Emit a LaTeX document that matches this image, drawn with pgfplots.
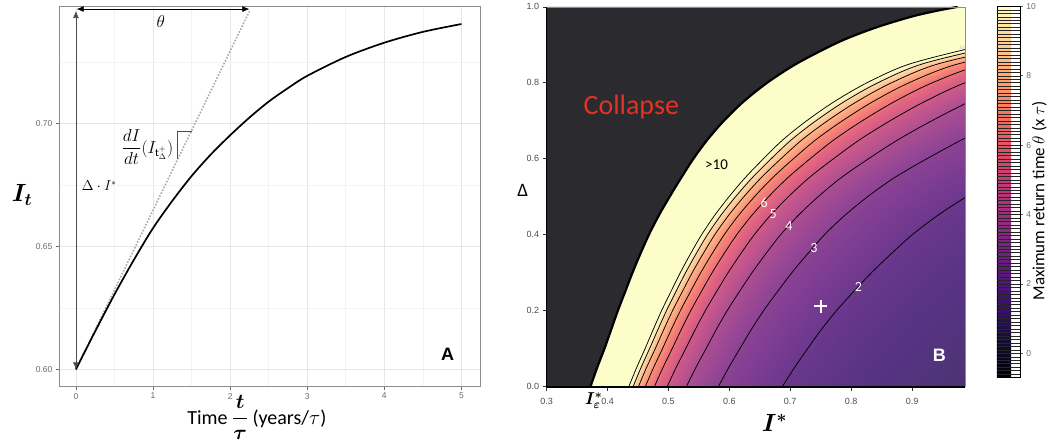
\documentclass[border=0pt]{standalone}
\usepackage{amsmath}
\usepackage{bm}
\usepackage{pgfplots}
\pgfplotsset{compat=1.18}
\usepackage{pgfplotstable}
\usepackage{fontspec}
\setmainfont{Carlito}
\newfontfamily\arialf{Liberation Sans}
\usetikzlibrary{arrows.meta}

\definecolor{tickgrey}{RGB}{105,105,105}
\definecolor{gridmaj}{RGB}{230,230,230}
\definecolor{gridmin}{RGB}{243,243,243}
\definecolor{framegrey}{RGB}{140,140,140}
\definecolor{tangentgrey}{RGB}{170,170,170}
\definecolor{collapsec}{RGB}{43,43,47}
\definecolor{collapsered}{RGB}{228,50,34}

\pgfplotsset{
 colormap={magma}{rgb255=(0,0,4) rgb255=(20,14,54) rgb255=(59,15,112) rgb255=(100,26,128) rgb255=(140,41,129) rgb255=(183,55,121) rgb255=(222,73,104) rgb255=(246,112,92) rgb255=(254,159,109) rgb255=(254,206,145) rgb255=(252,253,191)},
 colormap={magmalight}{rgb255=(38,38,42) rgb255=(55,50,84) rgb255=(88,51,133) rgb255=(123,60,147) rgb255=(157,73,148) rgb255=(194,85,141) rgb255=(227,100,127) rgb255=(247,133,116) rgb255=(254,173,131) rgb255=(254,213,162) rgb255=(252,253,201)},
 contourline/.style={black, line width=0.75pt, smooth},
}

% recovery curve of panel A
\pgfplotstableread{
t I
0    0.6000
0.25 0.6155
0.5  0.6305
0.75 0.6445
1.0  0.6575
1.25 0.6686
1.5  0.6787
1.75 0.6875
2.0  0.6953
2.25 0.7025
2.5  0.7090
2.75 0.7145
3.0  0.7195
3.5  0.7272
4.0  0.7330
4.5  0.7374
5.0  0.7406
}\curve

% collapse boundary (b) and contour lines theta = 10 ... 2 of panel B, by row Delta
\pgfplotstableread{
D b c10 c9 c8 c7 c6 c5 c4 c3 c2
0 0.372 0.435 0.442 0.4508 0.462 0.477 0.498 0.5295 0.582 0.687
0.05 0.383 0.4478 0.455 0.464 0.4756 0.491 0.5126 0.545 0.599 0.707
0.10 0.395 0.4617 0.4691 0.4784 0.4903 0.5062 0.5284 0.5618 0.6173 0.7285
0.15 0.406 0.475 0.4827 0.4923 0.5046 0.521 0.544 0.5785 0.636 0.751
0.20 0.417 0.4888 0.4968 0.5068 0.5196 0.5367 0.5606 0.5965 0.6563 0.776
0.25 0.429 0.504 0.5123 0.5228 0.5361 0.554 0.579 0.6165 0.679 0.804
0.30 0.441 0.5195 0.5282 0.5391 0.5531 0.5718 0.598 0.6373 0.7027 0.8335
0.35 0.454 0.5364 0.5456 0.557 0.5717 0.5913 0.6188 0.66 0.7287 0.866
0.40 0.468 0.5545 0.5641 0.5761 0.5916 0.6122 0.641 0.6843 0.7563 0.9005
0.45 0.484 0.5755 0.5857 0.5984 0.6147 0.6365 0.667 0.7128 0.789 0.9415
0.50 0.502 0.5995 0.6103 0.6239 0.6413 0.6645 0.697 0.7458 0.827 0.9895
0.55 0.521 0.626 0.6377 0.6523 0.671 0.696 0.731 0.7835 0.871 1.046
0.60 0.541 0.656 0.6688 0.6848 0.7053 0.7327 0.771 0.8285 0.9243 1.116
0.65 0.564 0.688 0.702 0.7195 0.742 0.772 0.814 0.877 0.982 1.192
0.70 0.591 0.727 0.7422 0.7613 0.7857 0.8183 0.864 0.9325 1.0467 1.275
0.75 0.623 0.772 0.7884 0.809 0.8354 0.8707 0.92 0.994 1.1173 1.364
0.80 0.662 0.826 0.8439 0.8663 0.895 0.9333 0.987 1.0675 1.2017 1.47
0.85 0.710 0.897 0.9176 0.9433 0.9763 1.0203 1.082 1.1745 1.3287 1.637
0.90 0.770 1.02 1.0472 1.0813 1.125 1.1833 1.265 1.3875 1.5917 2.0
0.925 0.806 1.102 1.134 1.175 1.226 1.295 1.392 1.537 1.779 2.262
0.95 0.849 1.205 1.244 1.2925 1.355 1.438 1.555 1.73 2.022 2.605
0.975 0.901 1.355 1.405 1.4675 1.548 1.655 1.805 2.03 2.405 3.155
0.99 0.942 1.495 1.556 1.6325 1.731 1.862 2.045 2.32 2.778 3.695
1.0 0.975 1.575 1.642 1.725 1.832 1.975 2.175 2.475 2.975 3.975
}\contours

% return-time field of panel B: mesh nodes (I*, Delta, theta) on the contour lines
\pgfplotstableread{
I D t
0.372 0 10
0.435 0 10
0.442 0 9
0.4508 0 8
0.462 0 7
0.477 0 6
0.498 0 5
0.5295 0 4
0.582 0 3
0.687 0 2
0.792 0 1.5
1.002 0 1
0.383 0.05 10
0.4478 0.05 10
0.455 0.05 9
0.464 0.05 8
0.4756 0.05 7
0.491 0.05 6
0.5126 0.05 5
0.545 0.05 4
0.599 0.05 3
0.707 0.05 2
0.815 0.05 1.5
1.031 0.05 1
0.395 0.10 10
0.4617 0.10 10
0.4691 0.10 9
0.4784 0.10 8
0.4903 0.10 7
0.5062 0.10 6
0.5284 0.10 5
0.5618 0.10 4
0.6173 0.10 3
0.7285 0.10 2
0.8397 0.10 1.5
1.062 0.10 1
0.406 0.15 10
0.475 0.15 10
0.4827 0.15 9
0.4923 0.15 8
0.5046 0.15 7
0.521 0.15 6
0.544 0.15 5
0.5785 0.15 4
0.636 0.15 3
0.751 0.15 2
0.866 0.15 1.5
1.096 0.15 1
0.417 0.20 10
0.4888 0.20 10
0.4968 0.20 9
0.5068 0.20 8
0.5196 0.20 7
0.5367 0.20 6
0.5606 0.20 5
0.5965 0.20 4
0.6563 0.20 3
0.776 0.20 2
0.8957 0.20 1.5
1.135 0.20 1
0.429 0.25 10
0.504 0.25 10
0.5123 0.25 9
0.5228 0.25 8
0.5361 0.25 7
0.554 0.25 6
0.579 0.25 5
0.6165 0.25 4
0.679 0.25 3
0.804 0.25 2
0.929 0.25 1.5
1.179 0.25 1
0.441 0.30 10
0.5195 0.30 10
0.5282 0.30 9
0.5391 0.30 8
0.5531 0.30 7
0.5718 0.30 6
0.598 0.30 5
0.6373 0.30 4
0.7027 0.30 3
0.8335 0.30 2
0.9643 0.30 1.5
1.226 0.30 1
0.454 0.35 10
0.5364 0.35 10
0.5456 0.35 9
0.557 0.35 8
0.5717 0.35 7
0.5913 0.35 6
0.6188 0.35 5
0.66 0.35 4
0.7287 0.35 3
0.866 0.35 2
1.0033 0.35 1.5
1.278 0.35 1
0.468 0.40 10
0.5545 0.40 10
0.5641 0.40 9
0.5761 0.40 8
0.5916 0.40 7
0.6122 0.40 6
0.641 0.40 5
0.6843 0.40 4
0.7563 0.40 3
0.9005 0.40 2
1.0447 0.40 1.5
1.333 0.40 1
0.484 0.45 10
0.5755 0.45 10
0.5857 0.45 9
0.5984 0.45 8
0.6147 0.45 7
0.6365 0.45 6
0.667 0.45 5
0.7128 0.45 4
0.789 0.45 3
0.9415 0.45 2
1.094 0.45 1.5
1.399 0.45 1
0.502 0.50 10
0.5995 0.50 10
0.6103 0.50 9
0.6239 0.50 8
0.6413 0.50 7
0.6645 0.50 6
0.697 0.50 5
0.7458 0.50 4
0.827 0.50 3
0.9895 0.50 2
1.152 0.50 1.5
1.477 0.50 1
0.521 0.55 10
0.626 0.55 10
0.6377 0.55 9
0.6523 0.55 8
0.671 0.55 7
0.696 0.55 6
0.731 0.55 5
0.7835 0.55 4
0.871 0.55 3
1.046 0.55 2
1.221 0.55 1.5
1.571 0.55 1
0.541 0.60 10
0.656 0.60 10
0.6688 0.60 9
0.6848 0.60 8
0.7053 0.60 7
0.7327 0.60 6
0.771 0.60 5
0.8285 0.60 4
0.9243 0.60 3
1.116 0.60 2
1.3077 0.60 1.5
1.691 0.60 1
0.564 0.65 10
0.688 0.65 10
0.702 0.65 9
0.7195 0.65 8
0.742 0.65 7
0.772 0.65 6
0.814 0.65 5
0.877 0.65 4
0.982 0.65 3
1.192 0.65 2
1.402 0.65 1.5
1.822 0.65 1
0.591 0.70 10
0.727 0.70 10
0.7422 0.70 9
0.7613 0.70 8
0.7857 0.70 7
0.8183 0.70 6
0.864 0.70 5
0.9325 0.70 4
1.0467 0.70 3
1.275 0.70 2
1.5033 0.70 1.5
1.96 0.70 1
0.623 0.75 10
0.772 0.75 10
0.7884 0.75 9
0.809 0.75 8
0.8354 0.75 7
0.8707 0.75 6
0.92 0.75 5
0.994 0.75 4
1.1173 0.75 3
1.364 0.75 2
1.6107 0.75 1.5
2.104 0.75 1
0.662 0.80 10
0.826 0.80 10
0.8439 0.80 9
0.8663 0.80 8
0.895 0.80 7
0.9333 0.80 6
0.987 0.80 5
1.0675 0.80 4
1.2017 0.80 3
1.47 0.80 2
1.7383 0.80 1.5
2.275 0.80 1
0.710 0.85 10
0.897 0.85 10
0.9176 0.85 9
0.9433 0.85 8
0.9763 0.85 7
1.0203 0.85 6
1.082 0.85 5
1.1745 0.85 4
1.3287 0.85 3
1.637 0.85 2
1.9453 0.85 1.5
2.562 0.85 1
0.770 0.90 10
1.02 0.90 10
1.0472 0.90 9
1.0813 0.90 8
1.125 0.90 7
1.1833 0.90 6
1.265 0.90 5
1.3875 0.90 4
1.5917 0.90 3
2.0 0.90 2
2.408 0.90 1.5
3.225 0.90 1
0.806 0.925 10
1.102 0.925 10
1.134 0.925 9
1.175 0.925 8
1.226 0.925 7
1.295 0.925 6
1.392 0.925 5
1.537 0.925 4
1.779 0.925 3
2.262 0.925 2
2.745 0.925 1.5
3.712 0.925 1
0.849 0.95 10
1.205 0.95 10
1.244 0.95 9
1.2925 0.95 8
1.355 0.95 7
1.438 0.95 6
1.555 0.95 5
1.73 0.95 4
2.022 0.95 3
2.605 0.95 2
3.188 0.95 1.5
4.355 0.95 1
0.901 0.975 10
1.355 0.975 10
1.405 0.975 9
1.4675 0.975 8
1.548 0.975 7
1.655 0.975 6
1.805 0.975 5
2.03 0.975 4
2.405 0.975 3
3.155 0.975 2
3.905 0.975 1.5
5.405 0.975 1
0.942 0.99 10
1.495 0.99 10
1.556 0.99 9
1.6325 0.99 8
1.731 0.99 7
1.862 0.99 6
2.045 0.99 5
2.32 0.99 4
2.778 0.99 3
3.695 0.99 2
4.612 0.99 1.5
6.445 0.99 1
0.975 1.0 10
1.575 1.0 10
1.642 1.0 9
1.725 1.0 8
1.832 1.0 7
1.975 1.0 6
2.175 1.0 5
2.475 1.0 4
2.975 1.0 3
3.975 1.0 2
4.975 1.0 1.5
6.975 1.0 1
}\heat

\begin{document}
\begin{tikzpicture}[x=1pt,y=1pt]
\path (0,0) rectangle (1050,440);

% ---------------- Panel A ----------------
\begin{axis}[
  at={(59pt,56pt)}, anchor=south west,
  width=422pt, height=380pt, scale only axis,
  xmin=-0.22, xmax=5.25, ymin=0.593, ymax=0.7476,
  xtick={0,1,2,3,4,5}, xticklabels={0,1,2,3,4,5},
  ytick={0.60,0.65,0.70}, yticklabels={0.60,0.65,0.70},
  minor xtick={0.5,1.5,2.5,3.5,4.5}, minor ytick={0.625,0.675,0.725},
  grid=both,
  major grid style={gridmaj, line width=0.8pt},
  minor grid style={gridmin, line width=0.6pt},
  axis line style={framegrey, line width=0.7pt},
  tick style={tickgrey, line width=0.6pt},
  tick align=outside, major tick length=3pt, minor tick length=0pt,
  xtick pos=left, ytick pos=left,
  ticklabel style={font=\arialf\fontsize{8.5}{10}\selectfont, text=tickgrey},
  clip mode=individual,
]
\addplot[tangentgrey, line width=1.6pt, dash pattern=on 1.6pt off 1.6pt] coordinates {(0,0.6) (2.25,0.7458)};
\addplot[black, line width=1.7pt, smooth] table[x=t, y=I] {\curve};
\draw[{Latex[length=7pt,width=6pt]}-{Latex[length=7pt,width=6pt]}, black!70, line width=0.7pt] (axis cs:0,0.6) -- (axis cs:0,0.7459);
\draw[{Latex[length=7pt,width=6pt]}-{Latex[length=7pt,width=6pt]}, black, line width=0.7pt] (axis cs:0.01,0.7467) -- (axis cs:2.25,0.7467);
\draw[black!70, line width=0.6pt] (axis cs:1.31,0.6855) -- (axis cs:1.31,0.6970) -- (axis cs:1.5,0.6970);
\node at (axis cs:1.1,0.7418) {\fontsize{16}{16}\selectfont $\theta$};
\node[anchor=west, inner sep=0pt] at (axis cs:0.59,0.6905) {\fontsize{16}{16}\selectfont $\dfrac{dI}{dt}(I_{\mathrm{t}^{+}_{\Delta}})$};
\node[anchor=west, inner sep=0pt] at (axis cs:0.075,0.6748) {\fontsize{13.5}{13.5}\selectfont $\Delta\cdot I^{*}$};
\node at (axis cs:4.82,0.6061) {\arialf\bfseries\fontsize{18}{18}\selectfont A};
\end{axis}

\node at (22,248) {\fontsize{24}{24}\selectfont $\boldsymbol{I_t}$};
\node at (257,25) {\fontsize{20}{20}\selectfont Time $\boldsymbol{\dfrac{t}{\tau}}$ (years/$\tau$)};

% ---------------- Panel B ----------------
\begin{axis}[
  at={(547pt,56pt)}, anchor=south west,
  width=419pt, height=380pt, scale only axis,
  xmin=0.3, xmax=0.9875, ymin=0, ymax=1,
  xtick={0.3,0.4,0.5,0.6,0.7,0.8,0.9}, xticklabels={0.3,0.4,0.5,0.6,0.7,0.8,0.9},
  ytick={0,0.2,0.4,0.6,0.8,1}, yticklabels={0.0,0.2,0.4,0.6,0.8,1.0},
  axis line style={draw=none},
  tick align=outside, major tick length=4pt, tick style={black!80, line width=0.6pt},
  xtick pos=left, ytick pos=left,
  ticklabel style={font=\arialf\fontsize{9}{10}\selectfont, text=black!70},
  xticklabel style={yshift=-4pt},
  colormap name=magmalight,
  point meta min=-0.7, point meta max=10,
  clip mode=individual,
  colorbar,
  colorbar style={
    at={(parent axis.south east)}, anchor=south west, xshift=23pt, yshift=9pt,
    width=23pt, height=371.5pt, scale only axis,
    colormap name=magma,
    ytick={0,2,4,6,8,10}, yticklabels={0,2,4,6,8,10},
    yticklabel pos=right, ytick pos=right,
    tick align=outside, major tick length=3pt, tick style={tickgrey, line width=0.6pt},
    yticklabel style={font=\arialf\fontsize{8.5}{10}\selectfont, text=tickgrey},
    axis line style={black, line width=0.5pt},
    after end axis/.code={
      \foreach \i in {1,...,106} {\draw[black!85, line width=0.45pt] (rel axis cs:0,{\i/107}) -- (rel axis cs:1,{\i/107});}
    },
  },
]
\addplot[surf, shader=interp, mesh/cols=12, point meta=explicit] table[x=I, y=D, meta=t] {\heat};
\addplot[fill=collapsec, draw=none] coordinates {(0.3,0) (0.372,0) (0.383,0.05) (0.395,0.10) (0.406,0.15) (0.417,0.20) (0.429,0.25) (0.441,0.30) (0.454,0.35) (0.468,0.40) (0.484,0.45) (0.502,0.50) (0.521,0.55) (0.541,0.60) (0.564,0.65) (0.591,0.70) (0.623,0.75) (0.662,0.80) (0.710,0.85) (0.770,0.90) (0.806,0.925) (0.849,0.95) (0.901,0.975) (0.942,0.99) (0.975,1.0) (0.3,1)} -- cycle;
\addplot[contourline] table[x=c2, y=D] {\contours};
\addplot[contourline] table[x=c3, y=D] {\contours};
\addplot[contourline] table[x=c4, y=D] {\contours};
\addplot[contourline] table[x=c5, y=D] {\contours};
\addplot[contourline] table[x=c6, y=D] {\contours};
\addplot[contourline] table[x=c7, y=D] {\contours};
\addplot[contourline] table[x=c8, y=D] {\contours};
\addplot[contourline] table[x=c9, y=D] {\contours};
\addplot[contourline] table[x=c10, y=D] {\contours};
\addplot[black, line width=2.2pt, line join=round, smooth] table[x=b, y=D] {\contours};
\addplot[only marks, mark=+, white, mark size=6.5pt, line width=1.8pt] coordinates {(0.75,0.212)};
\draw[black, line width=0.8pt] (rel axis cs:0,1) -- (rel axis cs:0,0);
\draw[black, line width=2pt] (rel axis cs:0,0) -- (rel axis cs:1,0);
\draw[black!45, line width=0.6pt] (rel axis cs:0,1) -- (rel axis cs:1,1) -- (rel axis cs:1,0);
\node[text=collapsered] at (axis cs:0.439,0.735) {\fontsize{28}{28}\selectfont Collapse};
\node at (axis cs:0.579,0.584) {\fontsize{15}{15}\selectfont >10};
\node[text=white] at (axis cs:0.657,0.484) {\fontsize{14}{14}\selectfont 6};
\node[text=white] at (axis cs:0.672,0.455) {\fontsize{14}{14}\selectfont 5};
\node[text=white] at (axis cs:0.698,0.423) {\fontsize{14}{14}\selectfont 4};
\node[text=white] at (axis cs:0.739,0.366) {\fontsize{14}{14}\selectfont 3};
\node[text=white] at (axis cs:0.812,0.262) {\fontsize{14}{14}\selectfont 2};
\node[text=black!25] at (axis cs:0.982,0.893) {\fontsize{5}{5}\selectfont 10};
\node[text=white] at (axis cs:0.945,0.082) {\arialf\bfseries\fontsize{18}{18}\selectfont B};
\end{axis}

\node at (523,252) {\fontsize{19}{19}\selectfont Δ};
\node[inner sep=0pt] at (775,20) {\fontsize{24}{24}\selectfont $\boldsymbol{I^{*}}$};
\node[inner sep=0pt] at (594,42) {\fontsize{18}{18}\selectfont $\boldsymbol{I^{*}_{\varepsilon}}$};
\node[rotate=90] at (1040,242) {\fontsize{17}{17}\selectfont Maximum return time $\theta$ (x $\tau$)};
\end{tikzpicture}
\end{document}
